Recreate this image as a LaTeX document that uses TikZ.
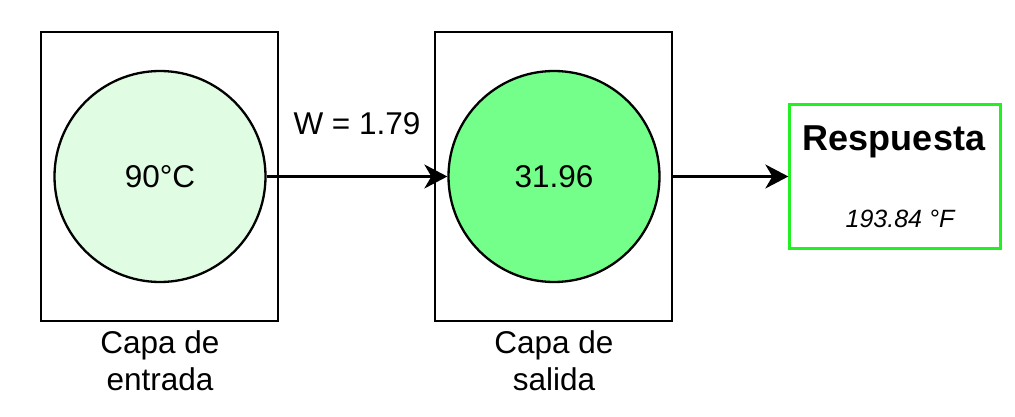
\documentclass[tikz,border=0pt]{standalone}
\usepackage{fontspec}
\setmainfont{Liberation Sans}
\usetikzlibrary{arrows.meta}
\definecolor{inlight}{HTML}{E0FCE2}
\definecolor{outgreen}{HTML}{73FF8A}
\definecolor{respgreen}{HTML}{22F022}
\tikzset{
  layerbox/.style={draw=black, line width=2.3pt, minimum width=237pt, minimum height=289pt, inner sep=0pt},
  neuron/.style={circle, draw=black, line width=2.3pt, minimum size=211pt, inner sep=0pt},
  respbox/.style={draw=respgreen, line width=2.3pt, minimum width=211pt, minimum height=144pt, inner sep=0pt},
  lbl/.style={font=\fontsize{31.5}{37}\selectfont, anchor=base, inner sep=0pt},
  conn/.style={line width=2.3pt, -{Stealth[length=23pt, width=24pt, inset=7pt]}}
}
\begin{document}
\begin{tikzpicture}[x=1pt, y=-1pt]
\useasboundingbox (0,0) rectangle (1015,417);
\node[layerbox] (box1) at (159.5,176.5) {};
\node[layerbox] (box2) at (553.5,176.5) {};
\node[neuron, fill=inlight] (c1) at (160,176.5) {};
\node[neuron, fill=outgreen] (c2) at (554,176.5) {};
\node[respbox] (resp) at (895,176.5) {};
\node[lbl] (t1) at (160,187) {90°C};
\node[lbl] (t2) at (554,188) {31.96};
\node[lbl] (w) at (357,135) {W = 1.79};
\node[lbl] (l1a) at (160,353) {Capa de};
\node[lbl] (l1b) at (160,390) {entrada};
\node[lbl] (l2a) at (554,353) {Capa de};
\node[lbl] (l2b) at (554,390) {salida};
\node[anchor=base, inner sep=0pt, font=\fontsize{36}{43}\selectfont\bfseries] (rt) at (894,150) {Respuesta};
\node[anchor=base, inner sep=0pt, font=\fontsize{25}{30}\selectfont\itshape] (rv) at (900,227) {193.84 °F};
\draw[conn] (c1) -- (c2);
\draw[conn] (box2.east) -- (resp.west);
\end{tikzpicture}
\end{document}
